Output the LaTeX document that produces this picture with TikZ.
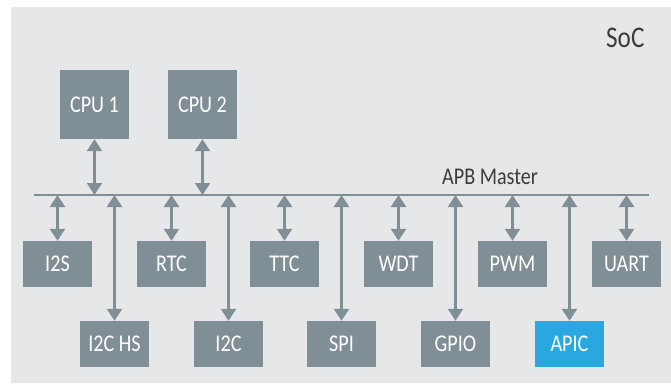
\documentclass[tikz,border=0pt]{standalone}
\usepackage{fontspec}
\setmainfont{Carlito}[FakeStretch=0.84]
\usetikzlibrary{arrows.meta}
\definecolor{socbg}{HTML}{E6E7E9}
\definecolor{blockgray}{HTML}{808E95}
\definecolor{apicblue}{HTML}{29A8E0}
\definecolor{labelgray}{HTML}{3C3C3C}
\begin{document}
\begin{tikzpicture}[x=1pt, y=-1pt,
    block/.style={fill=blockgray, text=white, inner sep=0pt, minimum width=69pt, minimum height=46pt, font=\fontsize{24}{24}\selectfont},
    link/.style={draw=blockgray, line width=2.3pt, {Triangle[width=15pt,length=12pt]}-{Triangle[width=15pt,length=12pt]}}]
    \useasboundingbox (0,0) rectangle (671,385);
    % 1. 芯片底板
    \fill[socbg] (11,7.5) rectangle (671,383);
    \node[anchor=base east, text=labelgray, font=\fontsize{30}{30}\selectfont] (soc) at (648,48) {SoC};

    % 2. 总线
    \coordinate (busL) at (34,195);
    \coordinate (busR) at (649,195);
    \draw[blockgray, line width=2.3pt] (busL) -- (busR);
    \node[anchor=base west, inner sep=0pt, text=labelgray, font=\fontsize{24}{24}\selectfont] (apb) at (442,184) {APB Master};

    % 3. 处理器
    \node[block, minimum height=69pt] (cpu1) at (94.5,104.5) {CPU 1};
    \node[block, minimum height=69pt] (cpu2) at (202.5,104.5) {CPU 2};

    % 4. 外设 (上下两排)
    \node[block] (i2s)  at (57.5,264) {I2S};
    \node[block] (rtc)  at (171.5,264) {RTC};
    \node[block] (ttc)  at (284.5,264) {TTC};
    \node[block] (wdt)  at (398.5,264) {WDT};
    \node[block] (pwm)  at (512.5,264) {PWM};
    \node[block] (uart) at (626.5,264) {UART};
    \node[block] (i2chs) at (114.5,344) {I2C HS};
    \node[block] (i2c)   at (228.5,344) {I2C};
    \node[block] (spi)   at (341.5,344) {SPI};
    \node[block] (gpio)  at (455.5,344) {GPIO};
    \node[block, fill=apicblue] (apic) at (569.5,344) {APIC};

    % 5. 连线
    \draw[link] (cpu1.south) -- (cpu1.south |- busL);
    \draw[link] (cpu2.south) -- (cpu2.south |- busL);
    \draw[link] (i2s.north |- busL) -- (i2s.north);
    \draw[link] (rtc.north |- busL) -- (rtc.north);
    \draw[link] (ttc.north |- busL) -- (ttc.north);
    \draw[link] (wdt.north |- busL) -- (wdt.north);
    \draw[link] (pwm.north |- busL) -- (pwm.north);
    \draw[link] (uart.north |- busL) -- (uart.north);
    \draw[link] (i2chs.north |- busL) -- (i2chs.north);
    \draw[link] (i2c.north |- busL) -- (i2c.north);
    \draw[link] (spi.north |- busL) -- (spi.north);
    \draw[link] (gpio.north |- busL) -- (gpio.north);
    \draw[link] (apic.north |- busL) -- (apic.north);
\end{tikzpicture}
\end{document}
